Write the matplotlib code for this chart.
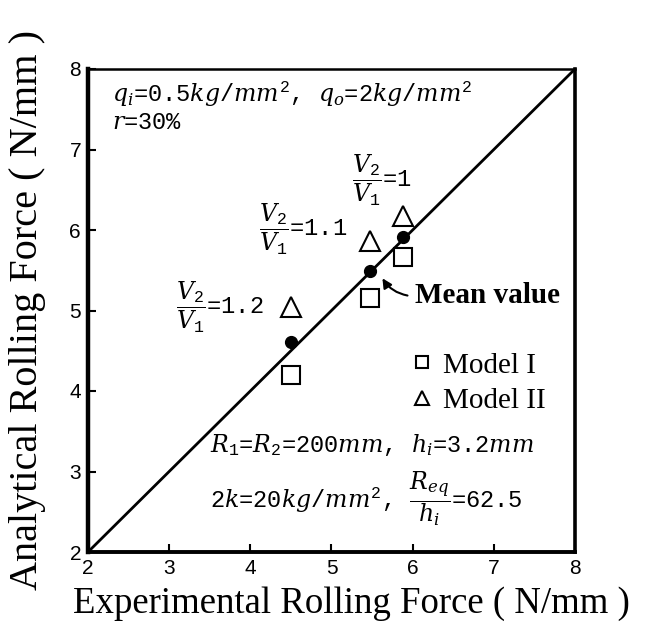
import matplotlib
matplotlib.use('Agg')
import matplotlib.pyplot as plt

plt.rcParams['mathtext.fontset'] = 'custom'
plt.rcParams['mathtext.rm'] = 'Liberation Mono'
plt.rcParams['mathtext.it'] = 'DejaVu Serif:italic'
plt.rcParams['mathtext.bf'] = 'Liberation Serif:bold'

# ---- data ----
ratio_labels = ['1.2', '1.1', '1']
experimental = [4.50, 5.47, 5.88]
model1 = [4.20, 5.15, 5.66]
model2 = [5.04, 5.86, 6.18]
mean_value = [4.61, 5.49, 5.91]
limits = [2, 8]
ticks = [2, 3, 4, 5, 6, 7, 8]

# label positions (x left, y centre) for the V2/V1 annotations
ratio_pos = [(3.08, 5.04), (4.11, 6.01), (5.25, 6.61)]

fig = plt.figure(figsize=(6.64, 6.30), dpi=100)
ax = fig.add_axes([88 / 664, 78 / 630, 487 / 664, 483 / 630])

ax.plot(limits, limits, color='black', lw=2.0, zorder=2)
h1, = ax.plot(experimental, model1, linestyle='none', marker='s', ms=13,
              mfc='white', mec='black', mew=1.5, label='Model I', zorder=3)
h2, = ax.plot(experimental, model2, linestyle='none', marker='^', ms=15,
              mfc='white', mec='black', mew=1.5, label='Model II', zorder=3)
ax.plot(experimental, mean_value, linestyle='none', marker='o', ms=8.5,
        color='black', zorder=4)

ax.set_xlim(limits)
ax.set_ylim(limits)
ax.set_xticks(ticks)
ax.set_yticks(ticks)
ax.tick_params(direction='in', length=6, width=1.5, labelsize=15,
               top=False, right=False, pad=5)
for lab in ax.get_xticklabels() + ax.get_yticklabels():
    lab.set_fontfamily('Liberation Sans')

for side, lw in [('left', 3.2), ('bottom', 2.8), ('right', 2.6), ('top', 1.8)]:
    ax.spines[side].set_linewidth(lw)

ax.set_xlabel('Experimental Rolling Force ( N/mm )', fontsize=26.5,
              fontfamily='Liberation Serif', va='center')
ax.xaxis.set_label_coords(0.54, -0.108)
ax.set_ylabel('Analytical Rolling Force ( N/mm )', fontsize=29,
              fontfamily='Liberation Serif', va='center')
ax.yaxis.set_label_coords(-0.125, 0.5)

mono = dict(fontfamily='Liberation Mono', fontsize=17, ha='left', va='center')
ax.text(2.30, 7.68, r'$q_i$=0.5$kg/mm^2$, $q_o$=2$kg/mm^2$', **mono)
ax.text(2.30, 7.33, r'$r$=30%', **mono)
for lab, (tx, ty) in zip(ratio_labels, ratio_pos):
    ax.text(tx, ty, r'$\dfrac{V_2}{V_1}$=' + lab, **mono)
ax.text(3.50, 3.33, r'$R_1$=$R_2$=200$mm$, $h_i$=3.2$mm$', **mono)
ax.text(3.50, 2.66, r'2$k$=20$kg/mm^2$, $\dfrac{R_{eq}}{h_i}$=62.5', **mono)

ax.text(6.03, 5.19, 'Mean value', fontfamily='Liberation Serif',
        fontweight='bold', fontsize=21, ha='left', va='center')
ax.annotate('', xy=(5.61, 5.43), xytext=(5.97, 5.18),
            arrowprops=dict(arrowstyle='-|>', connectionstyle='arc3,rad=-0.25',
                            lw=1.5, color='black', mutation_scale=14))

leg = ax.legend(handles=[h1, h2], loc='center left', bbox_to_anchor=(0.655, 0.35),
                frameon=False, markerscale=0.7, handlelength=1.0,
                handletextpad=0.25, borderpad=0, borderaxespad=0,
                labelspacing=0.3, prop={'family': 'Liberation Serif', 'size': 21})

fig.savefig('out.png', dpi=100)
